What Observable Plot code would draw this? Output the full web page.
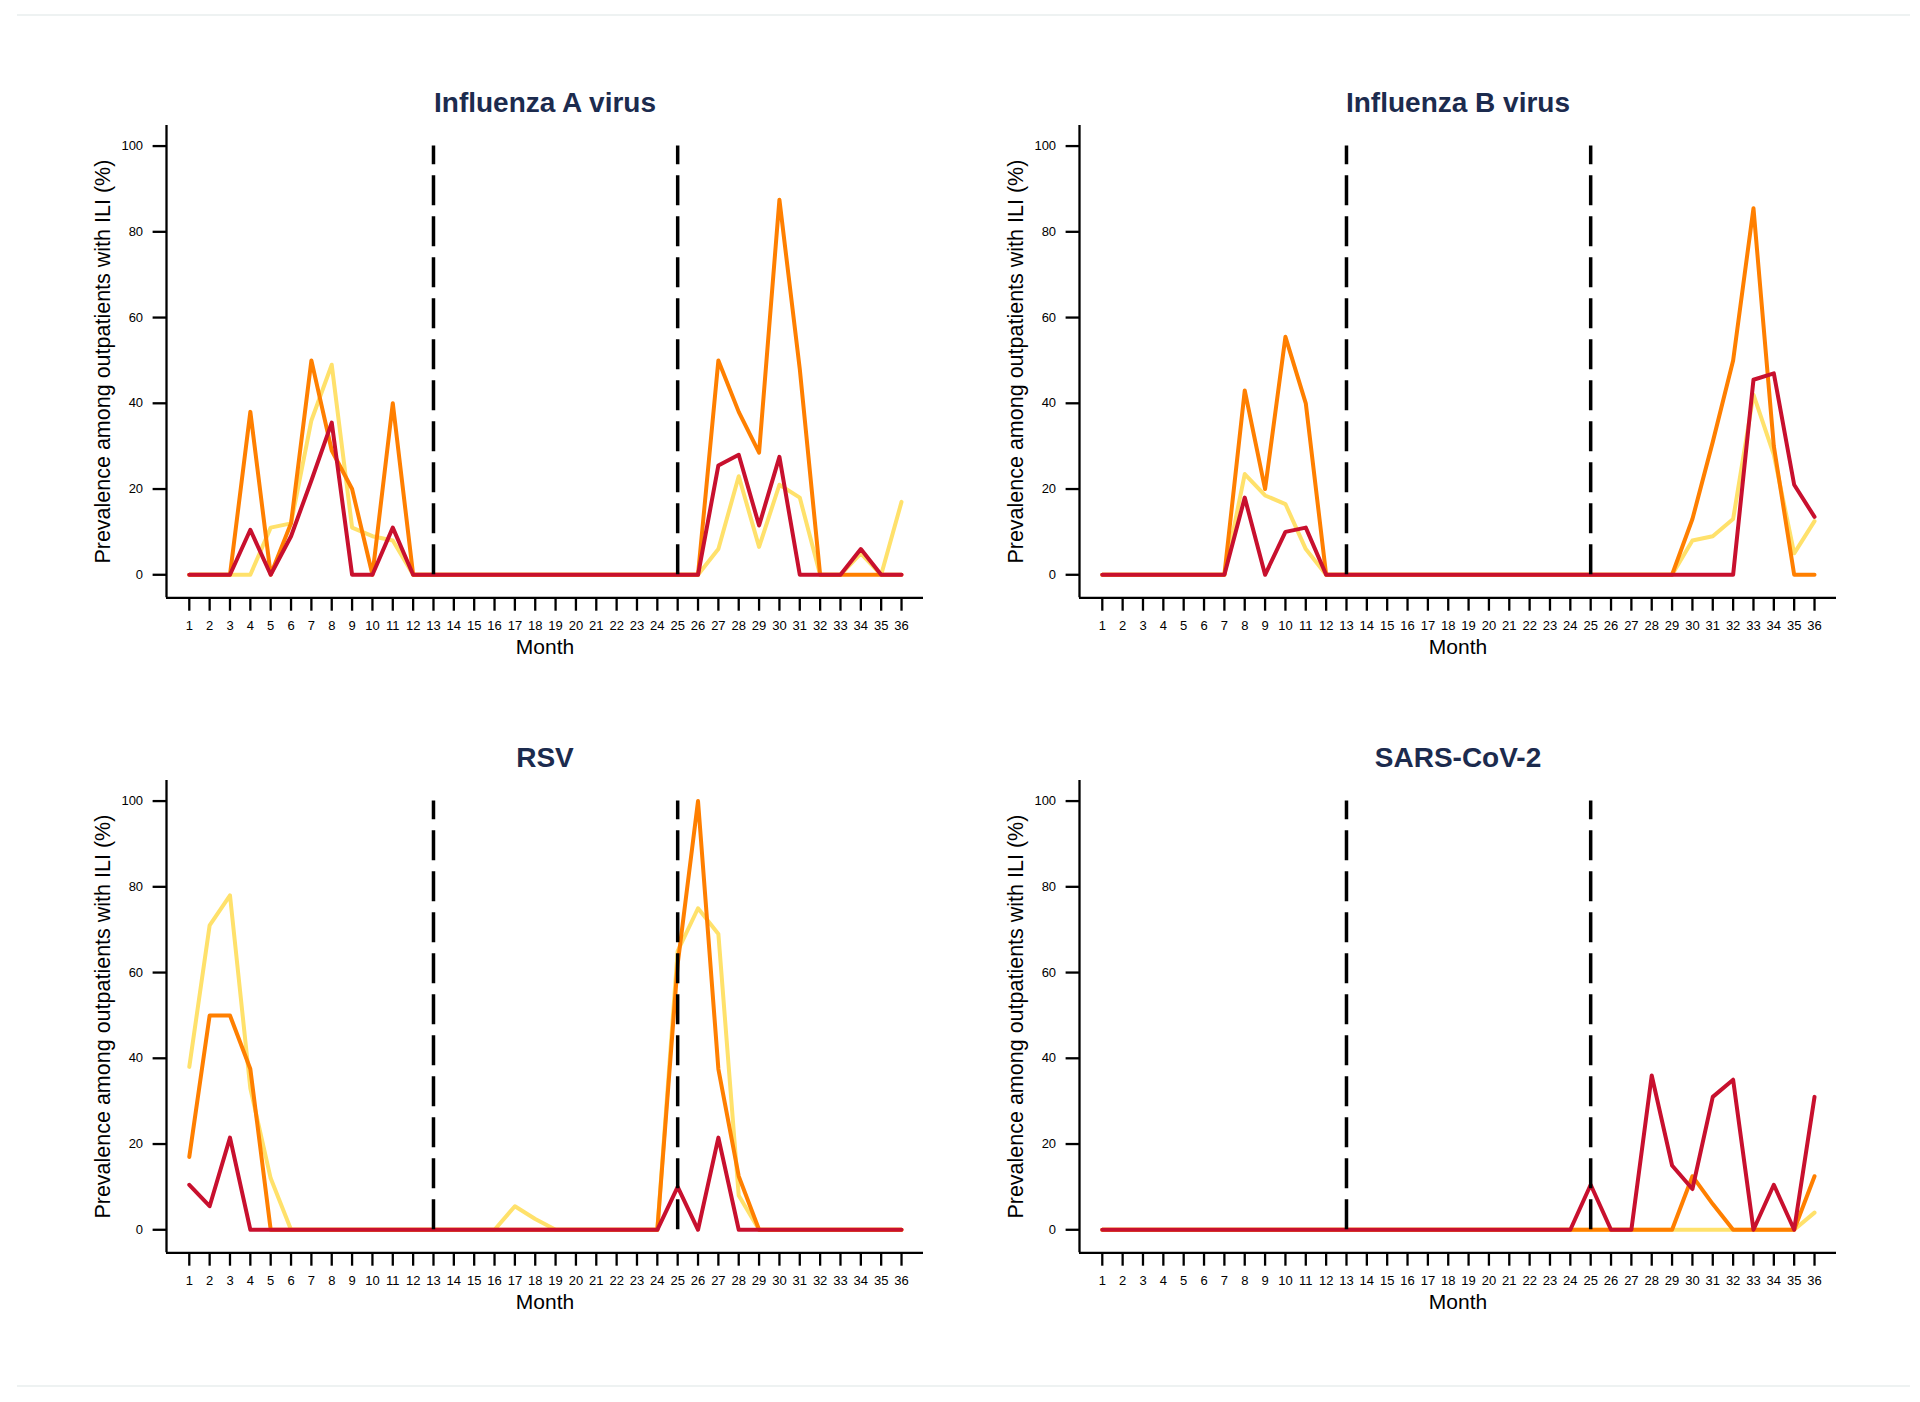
<!DOCTYPE html>
<html><head><meta charset="utf-8">
<script src="https://cdn.jsdelivr.net/npm/d3@7"></script>
<script src="https://cdn.jsdelivr.net/npm/@observablehq/plot@0.6"></script>
<style>
body{margin:0;background:#fff;}
#page{position:relative;width:1920px;height:1402px;background:#fff;overflow:hidden;}
.panel{position:absolute;}
.hr{position:absolute;left:17px;width:1893px;height:2px;background:#eef2f2;}
</style></head><body>
<div id="page"><div class="hr" style="top:14px"></div><div class="hr" style="top:1385px"></div></div>
<script>
const months = [1,2,3,4,5,6,7,8,9,10,11,12,13,14,15,16,17,18,19,20,21,22,23,24,25,26,27,28,29,30,31,32,33,34,35,36];
const yTicks = [0,20,40,60,80,100];
const periodBreaks = [13,25];
const seriesNames = ["Series 1","Series 2","Series 3"];
const seriesColors = ["#FFE16B","#FF7F00","#C8102E"];
const panelTitles = ["Influenza A virus","Influenza B virus","RSV","SARS-CoV-2"];
const xTitle = "Month";
const yTitle = "Prevalence among outpatients with ILI (%)";

// Influenza A
const fluA_s1 = [0,0,0,0,11,12,36,49,11,9,8,0, 0,0,0,0,0,0,0,0,0,0,0,0, 0,0,6,23,6.5,21,18,0,0,5,0,17];
const fluA_s2 = [0,0,0,38,0,12,50,29,20,0,40,0, 0,0,0,0,0,0,0,0,0,0,0,0, 0,0,50,38,28.5,87.5,48,0,0,0,0,0];
const fluA_s3 = [0,0,0,10.5,0,9,22,35.5,0,0,11,0, 0,0,0,0,0,0,0,0,0,0,0,0, 0,0,25.5,28,11.5,27.5,0,0,0,6,0,0];
// Influenza B
const fluB_s1 = [0,0,0,0,0,0,0,23.5,18.5,16.5,6,0, 0,0,0,0,0,0,0,0,0,0,0,0, 0,0,0,0,0,8,9,13,42,28,5,12.5];
const fluB_s2 = [0,0,0,0,0,0,0,43,20,55.5,40,0, 0,0,0,0,0,0,0,0,0,0,0,0, 0,0,0,0,0,13,31,50,85.5,30,0,0];
const fluB_s3 = [0,0,0,0,0,0,0,18,0,10,11,0, 0,0,0,0,0,0,0,0,0,0,0,0, 0,0,0,0,0,0,0,0,45.5,47,21,13.5];
// RSV
const rsv_s1 = [38,71,78,33,12,0,0,0,0,0,0,0, 0,0,0,0,5.5,2.5,0,0,0,0,0,0, 65,75,69,8,0,0,0,0,0,0,0,0];
const rsv_s2 = [17,50,50,37.5,0,0,0,0,0,0,0,0, 0,0,0,0,0,0,0,0,0,0,0,0, 62,100,37.5,12.5,0,0,0,0,0,0,0,0];
const rsv_s3 = [10.5,5.5,21.5,0,0,0,0,0,0,0,0,0, 0,0,0,0,0,0,0,0,0,0,0,0, 10,0,21.5,0,0,0,0,0,0,0,0,0];
// SARS-CoV-2
const cov_s1 = [0,0,0,0,0,0,0,0,0,0,0,0, 0,0,0,0,0,0,0,0,0,0,0,0, 0,0,0,0,0,0,0,0,0,0,0,4];
const cov_s2 = [0,0,0,0,0,0,0,0,0,0,0,0, 0,0,0,0,0,0,0,0,0,0,0,0, 0,0,0,0,0,12.5,6,0,0,0,0,12.5];
const cov_s3 = [0,0,0,0,0,0,0,0,0,0,0,0, 0,0,0,0,0,0,0,0,0,0,0,0, 10.5,0,0,36,15,9.5,31,35,0,10.5,0,31];

const panels = [
  {title: panelTitles[0], vals: [fluA_s1, fluA_s2, fluA_s3], left: 60, top: 60},
  {title: panelTitles[1], vals: [fluB_s1, fluB_s2, fluB_s3], left: 972.5, top: 60},
  {title: panelTitles[2], vals: [rsv_s1, rsv_s2, rsv_s3], left: 60, top: 714.5},
  {title: panelTitles[3], vals: [cov_s1, cov_s2, cov_s3], left: 972.5, top: 714.5}
];

const X0 = -0.12, X1 = 37.08, Y0 = -5.37, Y1 = 104.8;
const font = "'Liberation Sans', Arial, Helvetica, sans-serif";

const page = document.getElementById("page");
for (const p of panels) {
  const data = [];
  seriesNames.forEach((s, i) => p.vals[i].forEach((v, j) => data.push({month: months[j], value: v, series: s})));
  const chart = Plot.plot({
    width: 880, height: 610,
    marginLeft: 106, marginRight: 17, marginTop: 65, marginBottom: 72.7,
    x: {domain: [X0, X1], axis: null},
    y: {domain: [Y0, Y1], axis: null},
    color: {domain: seriesNames, range: seriesColors},
    style: {fontFamily: font, color: "#000", background: "#fff", overflow: "visible"},
    marks: [
      Plot.axisY({ticks: yTicks, anchor: "left", tickSize: 13.4, tickPadding: 10, fontSize: 13, strokeWidth: 2.3, label: null}),
      Plot.axisX({ticks: months, anchor: "bottom", tickSize: 13.4, tickPadding: 10, fontSize: 13, strokeWidth: 2.3, label: null}),
      Plot.ruleX([X0], {y1: Y0, y2: Y1, stroke: "#000", strokeWidth: 2.3}),
      Plot.ruleY([Y0], {x1: X0, x2: X1, stroke: "#000", strokeWidth: 2.3}),
      Plot.line(data, {x: "month", y: "value", z: "series", stroke: "series", strokeWidth: 4}),
      Plot.ruleX(periodBreaks, {y1: 0, y2: 100, stroke: "#000", strokeWidth: 3.5, strokeDasharray: "30,11"}),
      Plot.text([p.title], {text: d => d, frameAnchor: "top", dy: -13.3, lineAnchor: "bottom", fontSize: 28, fontWeight: "bold", fill: "#1c2b4e"}),
      Plot.text([xTitle], {text: d => d, frameAnchor: "bottom", dy: 56, lineAnchor: "bottom", fontSize: 21, fill: "#000"}),
      Plot.text([yTitle], {text: d => d, frameAnchor: "left", textAnchor: "middle", dx: -63.3, rotate: -90, fontSize: 21.5, fill: "#000"})
    ]
  });
  const div = document.createElement("div");
  div.className = "panel";
  div.style.left = p.left + "px";
  div.style.top = p.top + "px";
  div.appendChild(chart);
  page.appendChild(div);
}
</script>
</body></html>
